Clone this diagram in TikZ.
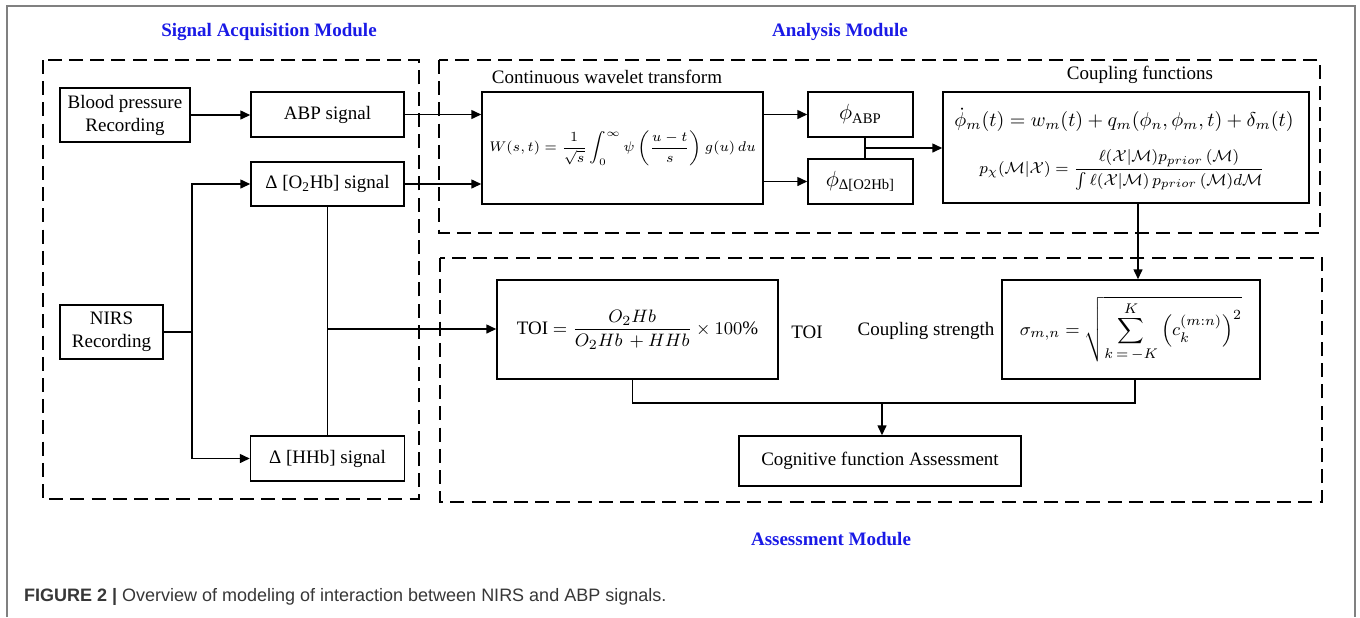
\documentclass[tikz,border=0pt]{standalone}
\usepackage{amsmath}
\usepackage{fontspec}
\setmainfont{Liberation Serif}
\newfontfamily\capfont{Liberation Sans}
\usetikzlibrary{arrows.meta,calc}
\definecolor{modblue}{RGB}{26,26,230}
\definecolor{framegray}{RGB}{128,128,128}
\definecolor{capgray}{RGB}{55,55,55}
\begin{document}
\begin{tikzpicture}[x=0.5pt,y=-0.5pt,
  every node/.style={font=\fontsize{9.5}{11.5}\selectfont},
  box/.style={draw,line width=0.75pt,inner sep=0pt,align=center},
  conn/.style={line width=0.75pt},
  arr/.style={line width=0.75pt,-{Triangle[length=5pt,width=4.5pt]}},
  module/.style={line width=1pt,dash pattern=on 7pt off 3.6pt},
  modtitle/.style={text=modblue,font=\fontsize{9.5}{11.5}\selectfont\bfseries},
]
\useasboundingbox (0,0) rectangle (1360,617);
% outer frame
\draw[framegray,line width=0.75pt] (7,617) -- (7,6) -- (1355,6) -- (1355,617);

% module frames
\draw[module] (43,60) rectangle (419,499);
\draw[module] (439,60) rectangle (1320,233);
\draw[module] (440,258) rectangle (1322,502);

% module titles
\node[modtitle] (tacq) at (269,32) {Signal Acquisition Module};
\node[modtitle] (tana) at (840,32) {Analysis Module};
\node[modtitle] (tass) at (831,539) {Assessment Module};

% signal acquisition
\node[box,minimum width=65pt,minimum height=27pt] (bp) at (125,115) {Blood pressure\\Recording};
\node[box,minimum width=76.5pt,minimum height=22.5pt] (abp) at (327.5,114.5) {ABP signal};
\node[box,minimum width=76.5pt,minimum height=22pt] (o2) at (327.5,184) {Δ [O\textsubscript{2}Hb] signal};
\node[box,minimum width=51.5pt,minimum height=27pt] (nirs) at (111.5,332) {NIRS\\Recording};
\node[box,minimum width=77pt,minimum height=22.5pt] (hhb) at (327.5,458.5) {Δ [HHb] signal};

% analysis
\node (cwtt) at (607,77) {Continuous wavelet transform};
\node[box,minimum width=140.5pt,minimum height=56pt,font=\fontsize{7.3}{9}\selectfont] (cwt) at (622.5,148)
  {$\displaystyle W(s,t)=\frac{1}{\sqrt{s}}\int_0^{\infty}\psi\left(\frac{u-t}{s}\right)g(u)\,du$};
\node[box,minimum width=52.5pt,minimum height=22.5pt,font=\fontsize{10.5}{12}\selectfont] (pabp) at (860.5,114.5) {$\phi_{\text{ABP}}$};
\node[box,minimum width=52.5pt,minimum height=22.5pt,font=\fontsize{10.5}{12}\selectfont] (po2) at (860.5,181.5) {$\phi_{\text{Δ[O2Hb]}}$};
\node (coupt) at (1140,75) {Coupling functions};
\node[box,minimum width=183pt,minimum height=55.5pt] (coup) at (1126,147.5) {};
\node[font=\fontsize{10}{12}\selectfont] (eqa) at (1124,120)
  {$\dot{\phi}_m(t) = w_m(t) + q_m(\phi_n,\phi_m,t) + \delta_m(t)$};
\node[font=\fontsize{8.2}{10}\selectfont] (eqb) at (1122,170)
  {$p_{\chi}(\mathcal{M}|\mathcal{X}) = \dfrac{\ell(\mathcal{X}|\mathcal{M})p_{prior}\,(\mathcal{M})}{\int \ell(\mathcal{X}|\mathcal{M})\,p_{prior}\,(\mathcal{M})d\mathcal{M}}$};

% assessment
\node[box,minimum width=140.5pt,minimum height=49.5pt] (toi) at (637.5,329.5)
  {TOI $\displaystyle = \frac{O_2Hb}{O_2Hb\,+HHb}\times 100\%$};
\node (toit) at (807,332) {TOI};
\node (cst) at (926,331) {Coupling strength};
\node[box,minimum width=129pt,minimum height=49.5pt] (cs) at (1131,329.5)
  {$\displaystyle \sigma_{m,n} = \sqrt{\sum_{k\,=\,-K}^{K}\left(c_k^{(m:n)}\right)^{2}}$};
\node[box,minimum width=141pt,minimum height=25pt] (cog) at (880,461) {Cognitive function Assessment};

% connectors: acquisition
\draw[arr] (bp.east) -- (bp.east -| abp.west);
\coordinate (nj) at (192,332);
\draw[conn] (nirs.east) -- (nj);
\draw[arr] (nj) |- (o2.west);
\draw[arr] (nj) |- (hhb.west);
\draw[conn] (o2.south) -- (o2.south |- hhb.north);
\coordinate (oj) at (327.5,329);
\draw[arr] (oj) -- (oj -| toi.west);
\draw[arr] (abp.east) -- (abp.east -| cwt.west);
\draw[arr] (o2.east) -- (o2.east -| cwt.west);

% connectors: analysis
\draw[arr] (cwt.east |- pabp) -- (pabp.west);
\draw[arr] (cwt.east |- po2) -- (po2.west);
\coordinate (pj) at (865,148);
\draw[conn] ([xshift=2.25pt]pabp.south) -- ([xshift=2.25pt]po2.north);
\draw[arr] (pj) -- (pj -| coup.west);
\draw[arr] ([xshift=6pt]coup.south) -- ([xshift=6pt]coup.south |- cs.north);

% connectors: assessment
\coordinate (aj) at (882,403);
\draw[conn] ([xshift=-2.5pt]toi.south) |- (aj) -| ([xshift=2pt]cs.south);
\draw[arr] (aj) -- (aj |- cog.north);

% caption
\node[anchor=west,text=capgray,font=\capfont\fontsize{9}{11}\selectfont] (cap) at (17,597)
  {\textbf{FIGURE 2 |} Overview of modeling of interaction between NIRS and ABP signals.};
\end{tikzpicture}
\end{document}
